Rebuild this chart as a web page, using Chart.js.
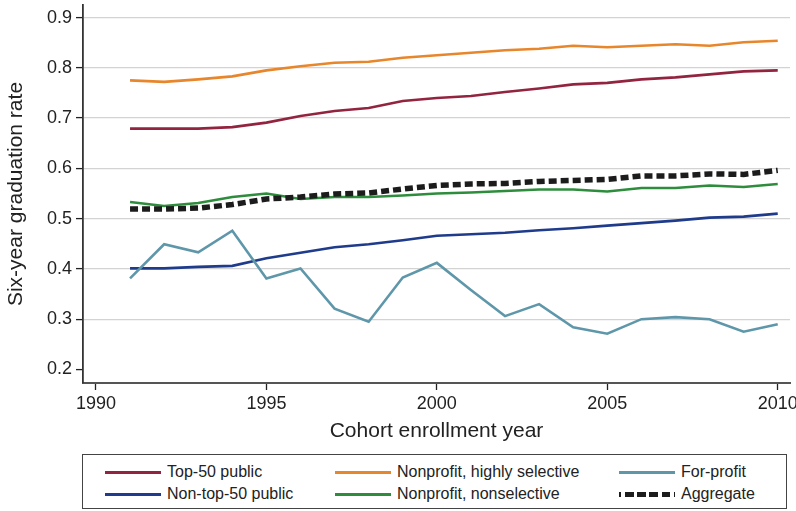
<!DOCTYPE html>
<html>
<head>
<meta charset="utf-8">
<script src="https://cdn.jsdelivr.net/npm/chart.js@4/dist/chart.umd.min.js"></script>
<style>
  html, body { margin: 0; padding: 0; background: #fff; }
  body { width: 796px; height: 511px; position: relative; overflow: hidden; font-family: "Liberation Sans", Arial, sans-serif; }
  #wrap { position: absolute; left: 0; top: 0; width: 796px; height: 450px; }
  #legend { position: absolute; left: 82px; top: 454px; width: 705px; height: 55px; border: 1.5px solid #444; box-sizing: border-box; }
  .item { position: absolute; display: flex; align-items: center; font-size: 16px; color: #222; white-space: nowrap; height: 20px; }
  .sw { width: 56px; height: 0; margin-right: 6px; }
</style>
</head>
<body>
<div id="wrap"><canvas id="c"></canvas></div>
<div id="legend"></div>
<script>
const years = [1991,1992,1993,1994,1995,1996,1997,1998,1999,2000,2001,2002,2003,2004,2005,2006,2007,2008,2009,2010];
const top50Public = [0.679,0.679,0.679,0.682,0.691,0.704,0.714,0.720,0.734,0.740,0.744,0.752,0.759,0.767,0.770,0.777,0.781,0.787,0.793,0.795];
const nonTop50Public = [0.401,0.401,0.404,0.406,0.421,0.432,0.443,0.449,0.457,0.466,0.469,0.472,0.477,0.481,0.486,0.491,0.496,0.502,0.504,0.510];
const nonprofitHighlySelective = [0.775,0.772,0.777,0.783,0.795,0.803,0.810,0.812,0.820,0.825,0.830,0.835,0.838,0.844,0.841,0.844,0.847,0.844,0.851,0.854];
const nonprofitNonselective = [0.533,0.525,0.531,0.543,0.550,0.539,0.543,0.543,0.546,0.550,0.552,0.555,0.558,0.558,0.554,0.561,0.561,0.566,0.563,0.569];
const forProfit = [0.381,0.449,0.433,0.476,0.381,0.401,0.321,0.295,0.383,0.412,0.358,0.306,0.330,0.284,0.271,0.300,0.304,0.300,0.275,0.290];
const aggregate = [0.519,0.519,0.521,0.528,0.539,0.543,0.549,0.551,0.559,0.566,0.569,0.570,0.574,0.576,0.578,0.585,0.585,0.589,0.588,0.596];
const xTicks = [1990,1995,2000,2005,2010];
const yTicks = [0.2,0.3,0.4,0.5,0.6,0.7,0.8,0.9];

const series = [
  { label: 'Top-50 public', data: top50Public, color: '#93243f', dash: [], width: 2.6, col: 0, row: 0 },
  { label: 'Nonprofit, highly selective', data: nonprofitHighlySelective, color: '#e8862c', dash: [], width: 2.6, col: 1, row: 0 },
  { label: 'For-profit', data: forProfit, color: '#5f97aa', dash: [], width: 2.6, col: 2, row: 0 },
  { label: 'Non-top-50 public', data: nonTop50Public, color: '#1f3b8b', dash: [], width: 2.6, col: 0, row: 1 },
  { label: 'Nonprofit, nonselective', data: nonprofitNonselective, color: '#2e8d3c', dash: [], width: 2.6, col: 1, row: 1 },
  { label: 'Aggregate', data: aggregate, color: '#1c1c1c', dash: [8, 4], width: 5.5, col: 2, row: 1 }
];

const datasets = series.map(s => ({
  label: s.label,
  data: s.data.map((v, i) => ({ x: years[i], y: v })),
  borderColor: s.color,
  backgroundColor: s.color,
  borderWidth: s.width,
  borderDash: s.dash,
  pointRadius: 0,
  tension: 0,
  fill: false,
  order: s.label === 'Aggregate' ? 0 : 1
}));

new Chart(document.getElementById('c'), {
  type: 'line',
  data: { datasets },
  options: {
    responsive: true,
    maintainAspectRatio: false,
    animation: false,
    layout: { padding: { left: 0, right: 6, top: 5, bottom: 0 } },
    plugins: { legend: { display: false }, tooltip: { enabled: false } },
    scales: {
      x: {
        type: 'linear',
        min: 1989.62,
        max: 2010.36,
        afterBuildTicks: (scale) => { scale.ticks = xTicks.map(v => ({ value: v })); },
        afterFit: (scale) => { scale.height = 67; scale.paddingLeft = 0; scale.paddingRight = 0; },
        ticks: { color: '#222', font: { family: 'Liberation Sans', size: 18 }, padding: 3, maxRotation: 0, callback: v => String(v) },
        grid: { drawOnChartArea: false, drawTicks: true, tickLength: 7, tickColor: '#222', tickWidth: 1.3 },
        border: { display: true, color: '#555', width: 2 },
        title: { display: true, text: 'Cohort enrollment year', color: '#222', font: { family: 'Liberation Sans', size: 21 }, padding: { top: 0, bottom: 6 } }
      },
      y: {
        min: 0.173,
        max: 0.925,
        afterBuildTicks: (scale) => { scale.ticks = yTicks.map(v => ({ value: v })); },
        afterFit: (scale) => { scale.width = 83; scale.paddingTop = 0; scale.paddingBottom = 0; },
        ticks: { color: '#222', font: { family: 'Liberation Sans', size: 18 }, padding: 4, callback: v => Number(v).toFixed(1) },
        grid: {
          drawOnChartArea: true,
          drawTicks: true,
          tickLength: 7,
          tickColor: '#222',
          tickWidth: 1.3,
          lineWidth: 1.2,
          color: (ctx) => (ctx.tick && Math.abs(ctx.tick.value - 0.2) < 1e-6) ? 'rgba(0,0,0,0)' : '#d3d3d3'
        },
        border: { display: true, color: '#333', width: 1.8 },
        title: { display: true, text: 'Six-year graduation rate', color: '#222', font: { family: 'Liberation Sans', size: 21 }, padding: { top: 4, bottom: 0 } }
      }
    }
  }
});

// HTML legend (text kept as real text)
const legend = document.getElementById('legend');
const colX = [22, 252, 536];
const rowY = [7, 29];
series.forEach(s => {
  const d = document.createElement('div');
  d.className = 'item';
  d.style.left = colX[s.col] + 'px';
  d.style.top = rowY[s.row] + 'px';
  const sw = document.createElement('span');
  sw.className = 'sw';
  if (s.label === 'Aggregate') {
    sw.style.borderTop = '5px dashed ' + s.color;
    sw.style.borderImage = 'repeating-linear-gradient(90deg,' + s.color + ' 0 7px, transparent 7px 10px) 5';
  } else {
    sw.style.borderTop = '3px solid ' + s.color;
  }
  const t = document.createElement('span');
  t.textContent = s.label;
  d.appendChild(sw);
  d.appendChild(t);
  legend.appendChild(d);
});
</script>
</body>
</html>
